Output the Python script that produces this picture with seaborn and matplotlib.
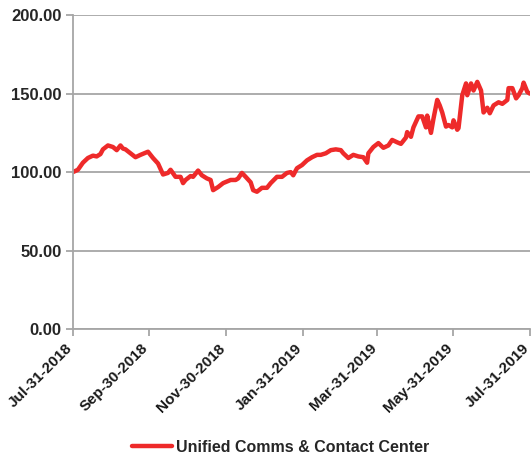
import matplotlib
matplotlib.use("Agg")
import matplotlib.pyplot as plt
import matplotlib.transforms as mtransforms
import pandas as pd
import seaborn as sns

# Index level of the segment, rebased to 100 on Jul-31-2018
dates = [
    "2018-07-31", "2018-08-04", "2018-08-08", "2018-08-12", "2018-08-16", "2018-08-19",
    "2018-08-22", "2018-08-24", "2018-08-28", "2018-09-01", "2018-09-04", "2018-09-07",
    "2018-09-09", "2018-09-11", "2018-09-15", "2018-09-19", "2018-09-23", "2018-09-29",
    "2018-10-03", "2018-10-07", "2018-10-11", "2018-10-15", "2018-10-17", "2018-10-21",
    "2018-10-25", "2018-10-27", "2018-10-29", "2018-11-02", "2018-11-04", "2018-11-08",
    "2018-11-11", "2018-11-15", "2018-11-18", "2018-11-20", "2018-11-24", "2018-11-28",
    "2018-12-04", "2018-12-08", "2018-12-10", "2018-12-13", "2018-12-16", "2018-12-20",
    "2018-12-22", "2018-12-25", "2018-12-29", "2019-01-02", "2019-01-05", "2019-01-10",
    "2019-01-14", "2019-01-18", "2019-01-21", "2019-01-23", "2019-01-26", "2019-01-30",
    "2019-02-03", "2019-02-07", "2019-02-11", "2019-02-14", "2019-02-18", "2019-02-22",
    "2019-02-26", "2019-03-02", "2019-03-04", "2019-03-08", "2019-03-12", "2019-03-16",
    "2019-03-20", "2019-03-23", "2019-03-24", "2019-03-28", "2019-04-01", "2019-04-05",
    "2019-04-09", "2019-04-12", "2019-04-16", "2019-04-19", "2019-04-23", "2019-04-24",
    "2019-04-27", "2019-04-29", "2019-05-03", "2019-05-06", "2019-05-09", "2019-05-10",
    "2019-05-13", "2019-05-15", "2019-05-18", "2019-05-20", "2019-05-22", "2019-05-25",
    "2019-05-27", "2019-05-30", "2019-05-31", "2019-06-03", "2019-06-04", "2019-06-07",
    "2019-06-10", "2019-06-11", "2019-06-14", "2019-06-16", "2019-06-19", "2019-06-22",
    "2019-06-24", "2019-06-27", "2019-06-29", "2019-07-02", "2019-07-06", "2019-07-09",
    "2019-07-13", "2019-07-14", "2019-07-17", "2019-07-20", "2019-07-22", "2019-07-25",
    "2019-07-26", "2019-07-29", "2019-07-31",
]
values = [
    100.0, 101.5, 106.0, 109.0, 110.5, 110.0,
    111.5, 114.5, 117.0, 116.0, 114.0, 117.0,
    115.0, 114.5, 112.0, 109.5, 111.0, 113.0,
    109.0, 105.5, 98.5, 99.5, 101.5, 97.0,
    97.0, 93.0, 95.0, 97.5, 97.0, 101.0,
    98.0, 96.0, 95.0, 88.5, 90.5, 93.0,
    95.0, 95.0, 96.0, 99.5, 97.0, 93.5,
    88.5, 87.5, 90.0, 90.0, 93.0, 97.0,
    97.0, 99.5, 100.0, 98.0, 102.5, 104.5,
    107.5, 109.5, 111.0, 111.0, 112.0, 114.0,
    114.5, 114.0, 112.0, 109.0, 111.0, 110.0,
    109.5, 106.0, 112.0, 116.0, 118.5, 115.5,
    117.0, 120.5, 119.0, 118.0, 122.0, 125.5,
    122.5, 128.5, 135.5, 135.5, 128.5, 136.0,
    125.0, 134.0, 146.0, 142.5, 138.0, 129.0,
    130.0, 128.5, 133.0, 127.0, 128.0, 149.0,
    156.5, 149.0, 156.5, 152.0, 157.5, 152.0,
    138.0, 141.0, 137.5, 142.5, 144.5, 143.5,
    146.0, 153.5, 153.5, 147.0, 149.0, 153.5,
    157.0, 151.0, 150.0,
]
series_name = "Unified Comms & Contact Center"
tick_dates = ["2018-07-31", "2018-09-30", "2018-11-30", "2019-01-31",
              "2019-03-31", "2019-05-31", "2019-07-31"]
tick_labels = ["Jul-31-2018", "Sep-30-2018", "Nov-30-2018", "Jan-31-2019",
               "Mar-31-2019", "May-31-2019", "Jul-31-2019"]
y_ticks = [0, 50, 100, 150, 200]

df = pd.DataFrame({"date": pd.to_datetime(dates), "value": values, "series": series_name})

sns.set_theme(style="white")
plt.rcParams["font.family"] = ["Liberation Sans", "DejaVu Sans"]

grey = "#a6a6a6"
red = "#ee2a2a"

fig = plt.figure(figsize=(5.32, 4.59), dpi=100)
ax = fig.add_axes([0.137, 0.283, 0.859, 0.684])

sns.lineplot(data=df, x="date", y="value", hue="series", palette=[red],
             linewidth=3.2, ax=ax, legend=True)

ax.set_ylim(0, 200)
ax.set_yticks(y_ticks)
ax.set_yticklabels([f"{v:.2f}" for v in y_ticks], fontsize=12, fontweight="bold")
ax.yaxis.grid(True, color=grey, linewidth=1.3)
ax.xaxis.grid(False)
ax.set_axisbelow(True)

# Date ticks; the rotated labels hang just left of and below each tick mark
ticks = pd.to_datetime(tick_dates)
ax.set_xlim(ticks[0], ticks[-1])
ax.set_xticks(ticks)
ax.set_xticklabels([])
label_trans = ax.get_xaxis_transform() + mtransforms.ScaledTranslation(
    -8 / 100, -12 / 100, fig.dpi_scale_trans)
for t, lab in zip(ticks, tick_labels):
    ax.text(t, 0, lab, transform=label_trans, rotation=45, ha="right", va="top",
            rotation_mode="anchor", fontsize=11, fontweight="bold", color="#1a1a1a",
            clip_on=False)

ax.set_xlabel("")
ax.set_ylabel("")
for side in ["top", "right"]:
    ax.spines[side].set_visible(False)
for side in ["left", "bottom"]:
    ax.spines[side].set_color(grey)
    ax.spines[side].set_linewidth(1.3)
ax.tick_params(axis="both", which="major", direction="out", length=5, width=1.3,
               color=grey, left=True, bottom=True, pad=3)

handles, labels = ax.get_legend_handles_labels()
ax.get_legend().remove()
fig.legend(handles, labels, loc="center", bbox_to_anchor=(0.528, 12 / 459),
           frameon=False, prop={"weight": "bold", "size": 11.5},
           handlelength=2.5, handletextpad=0.25)

fig.savefig("out.png", dpi=100)
